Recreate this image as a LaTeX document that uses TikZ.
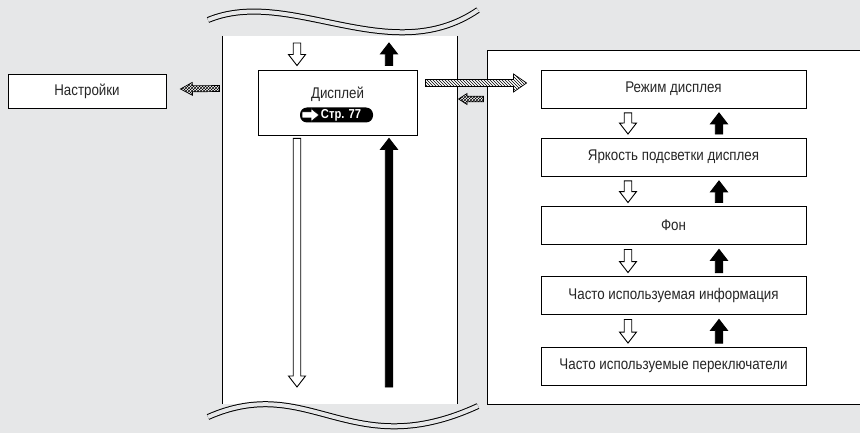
\documentclass[tikz,border=0pt]{standalone}
\usepackage{fontspec}
\setmainfont{Liberation Sans}
\newfontfamily\condfont[FakeStretch=0.86]{Liberation Sans}
\usetikzlibrary{calc,patterns}
\definecolor{bg}{HTML}{E6E7E8}
\newcommand\setba[3]{%
  \pgfmathsetmacro\baSW{#1}%
  \pgfmathsetmacro\baRs{veclen(#3,#1)}%
  \pgfmathsetmacro\baTs{atan(#1/#3)}%
  \pgfmathsetmacro\baRh{veclen(#3,#2)}%
  \pgfmathsetmacro\baTh{atan(#2/#3)}}
\tikzset{
  blockarrow/.style={to path={
    ($(\tikztostart)!\baSW pt!90:(\tikztotarget)$)
    -- ($(\tikztotarget)!\baRs pt!-\baTs:(\tikztostart)$)
    -- ($(\tikztotarget)!\baRh pt!-\baTh:(\tikztostart)$)
    -- (\tikztotarget)
    -- ($(\tikztotarget)!\baRh pt!\baTh:(\tikztostart)$)
    -- ($(\tikztotarget)!\baRs pt!\baTs:(\tikztostart)$)
    -- ($(\tikztostart)!\baSW pt!-90:(\tikztotarget)$)
    -- cycle}},
  ba/.style n args={3}{/utils/exec={\setba{#1}{#2}{#3}}},
  hollowarrow/.style={blockarrow, ba={3.75}{8.5}{11}, draw=black, fill=white, line width=0.9pt},
  blackarrow/.style={blockarrow, ba={3.75}{8.5}{11}, draw=black, fill=black, line width=0.9pt},
  hatcharrow/.style={blockarrow, ba={3.5}{9}{13}, draw=black, line width=0.7pt,
    preaction={fill=white}, pattern=north west lines},
  checkarrow/.style={blockarrow, draw=black, line width=0.7pt,
    preaction={fill=white}, pattern=crosshatch},
  txt/.style={font=\condfont\fontsize{15.5}{16}\selectfont, text=black!85},
  box/.style={draw=black, line width=0.9pt, fill=white, inner sep=0pt,
    minimum width=265pt, minimum height=38pt, txt},
  wave/.style={line width=1pt, draw=black, double=bg, double distance=4pt}
}
\begin{document}
\begin{tikzpicture}[x=1pt,y=-1pt]
\useasboundingbox (0,0) rectangle (860,433);
\clip (0,0) rectangle (860,433);
\fill[bg] (0,0) rectangle (860,433);

% central column
\fill[white] (222.5,36) rectangle (457,404);
\draw[line width=0.9pt] (222.5,36) -- (222.5,404);
\draw[line width=0.9pt] (457,36) -- (457,404);
\draw[wave] (208,20) .. controls (290,-14) and (390,70) .. (478,10);
\draw[wave] (208,417) .. controls (310,372) and (350,465) .. (478,406);

% right panel
\draw[line width=0.9pt, fill=white] (487,50) rectangle (875,404);

% left box
\node[box, minimum width=158pt, minimum height=34pt] (nastr) at (87,91) {Настройки};

% display box
\node[box, minimum width=159pt, minimum height=65pt] (disp) at (337.5,102.5) {};
\node[txt, inner sep=0pt] (displbl) at (337.5,94) {Дисплей};
\node[fill=black, rounded corners=7pt, minimum width=73pt, minimum height=15pt, inner sep=0pt] (pill) at (336.5,115) {};
\coordinate (pa1) at (302,115);
\coordinate (pa2) at (319,115);
\draw[blockarrow, ba={3}{6.5}{8}, fill=white, draw=black, line width=0.5pt] (pa1) to (pa2);
\node[text=white, font=\condfont\bfseries\fontsize{13}{13}\selectfont, inner sep=0pt] (pgtxt) at (341,115.5) {Стр. 77};

% right boxes
\node[box] (r1) at (673.5,89) {Режим дисплея};
\node[box] (r2) at (673.5,157) {Яркость подсветки дисплея};
\node[box] (r3) at (673.5,225.5) {Фон};
\node[box] (r4) at (673.5,295.5) {Часто используемая информация};
\node[box] (r5) at (673.5,366) {Часто используемые переключатели};

\foreach \a/\b in {r1/r2, r2/r3, r3/r4, r4/r5}{
  \coordinate (\a hd) at ($(\a.south)+(-45.5,4.5)$);
  \coordinate (\b hd) at ($(\b.north)+(-45.5,-3.5)$);
  \coordinate (\a bu) at ($(\a.south)+(45.5,4.5)$);
  \coordinate (\b bu) at ($(\b.north)+(45.5,-3.5)$);
  \draw[hollowarrow] (\a hd) to (\b hd);
  \draw[blackarrow] (\b bu) to (\a bu);
}

% central arrows
\coordinate (ht1) at (297,43);
\coordinate (ht2) at ($(disp.north)+(-40.5,-4)$);
\coordinate (bt1) at (389,43);
\coordinate (bt2) at ($(disp.north)+(51.5,-4)$);
\draw[hollowarrow] (ht1) to (ht2);
\draw[blackarrow] (bt2) to (bt1);
\coordinate (hl1) at ($(disp.south)+(-40.5,3)$);
\coordinate (hl2) at (297,387);
\coordinate (bl1) at ($(disp.south)+(51.5,3)$);
\coordinate (bl2) at (389,387);
\draw[hollowarrow] (hl1) to (hl2);
\draw[blackarrow] (bl2) to (bl1);

% horizontal arrows
\coordinate (hz1) at ($(disp.east)+(8,-19.5)$);
\coordinate (hz2) at ($(r1.west)+(-14,-6)$);
\draw[hatcharrow] (hz1) to (hz2);
\coordinate (ck1) at ($(r1.west)+(-57,10)$);
\coordinate (ck2) at ($(r1.west)+(-82,10)$);
\draw[checkarrow, ba={2.8}{5.5}{8.5}] (ck1) to (ck2);
\coordinate (cl1) at ($(disp.west)+(-38,-14)$);
\coordinate (cl2) at ($(nastr.east)+(14,-2)$);
\draw[checkarrow, ba={3}{6.5}{12}] (cl1) to (cl2);
\end{tikzpicture}
\end{document}
